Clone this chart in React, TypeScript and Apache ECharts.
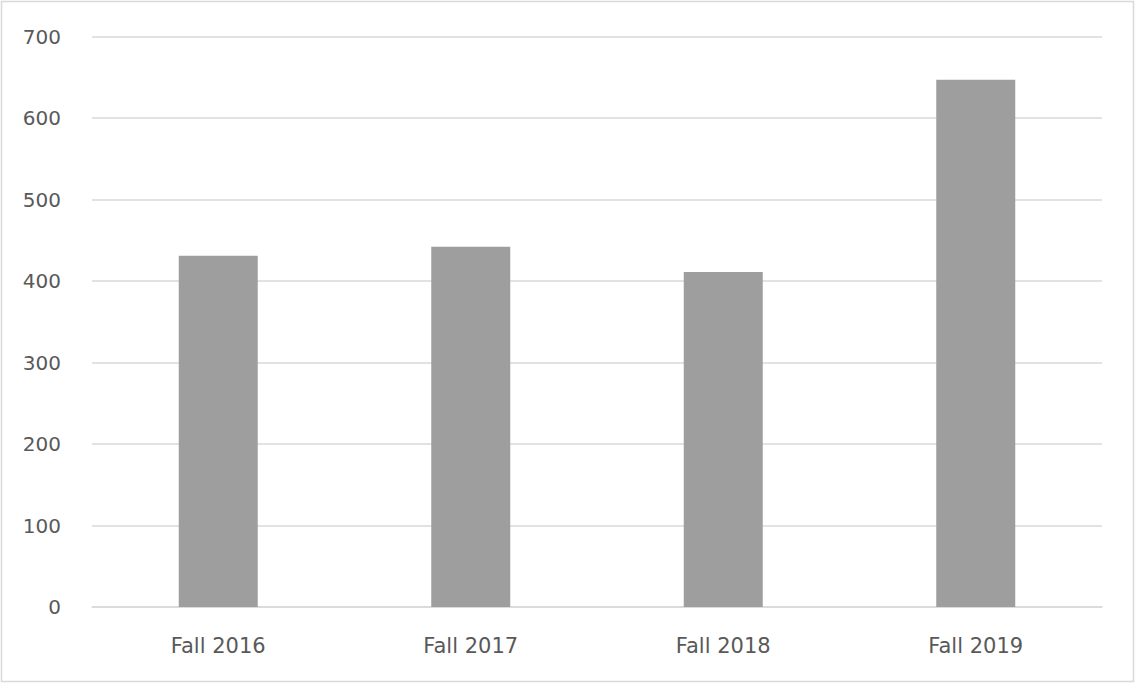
import React, { useEffect, useRef } from "react";
import * as echarts from "echarts";

const categories = ["Fall 2016", "Fall 2017", "Fall 2018", "Fall 2019"];
const values = [431, 442, 411, 647];

export default function App() {
  const ref = useRef<HTMLDivElement>(null);
  useEffect(() => {
    document.body.style.margin = "0";
    const chart = echarts.init(ref.current!, null, { renderer: "svg" });
    chart.setOption({
      animation: false,
      backgroundColor: "#ffffff",
      graphic: [
        {
          type: "rect",
          shape: { x: 1.5, y: 1.5, width: 1132, height: 680 },
          style: { fill: "none", stroke: "#d9d9d9", lineWidth: 1.5 },
          silent: true,
        },
      ],
      grid: { left: 92, right: 33, top: 36.5, bottom: 76, containLabel: false },
      xAxis: {
        type: "category",
        data: categories,
        axisLine: { show: true, lineStyle: { color: "#d9d9d9", width: 1.5 } },
        axisTick: { show: false },
        axisLabel: {
          color: "#595959",
          fontSize: 21,
          fontFamily: "DejaVu Sans, sans-serif",
          margin: 28,
        },
      },
      yAxis: {
        type: "value",
        min: 0,
        max: 700,
        interval: 100,
        axisLine: { show: false },
        axisTick: { show: false },
        splitLine: { lineStyle: { color: "#d9d9d9", width: 1.5 } },
        axisLabel: {
          color: "#595959",
          fontSize: 20,
          fontFamily: "DejaVu Sans, sans-serif",
          margin: 31,
        },
      },
      series: [
        {
          type: "bar",
          data: values,
          barWidth: 79,
          itemStyle: { color: "#9e9e9e" },
        },
      ],
    });
    return () => chart.dispose();
  }, []);
  return (
    <div
      ref={ref}
      style={{ position: "absolute", left: 0, top: 0, width: 1135, height: 683 }}
    />
  );
}
